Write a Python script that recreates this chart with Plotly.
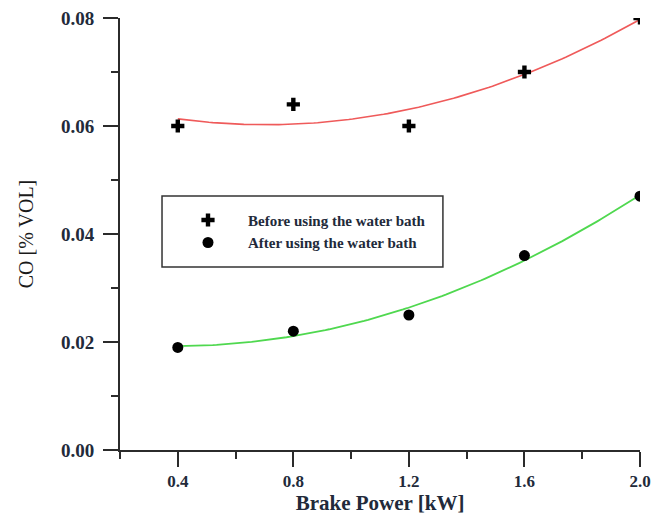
import numpy as np
import plotly.graph_objects as go

# Brake power (kW) and CO emissions (% vol)
brake_power = [0.4, 0.8, 1.2, 1.6, 2.0]
co_before = [0.060, 0.064, 0.060, 0.070, 0.080]
co_after = [0.019, 0.022, 0.025, 0.036, 0.047]

x_ticks = [0.4, 0.8, 1.2, 1.6, 2.0]
y_ticks = [0.00, 0.02, 0.04, 0.06, 0.08]

name_before = "Before using the water bath"
name_after = "After using the water bath"

SERIF = "Liberation Serif, Times New Roman, serif"
TICK_COLOR = "#222a3a"

# second-order polynomial trend lines through each series
x_fit = np.linspace(min(brake_power), max(brake_power), 120)
fit_before = np.polyval(np.polyfit(brake_power, co_before, 2), x_fit)
fit_after = np.polyval(np.polyfit(brake_power, co_after, 2), x_fit)

fig = go.Figure()
fig.add_trace(go.Scatter(x=x_fit, y=fit_before, mode="lines",
                         line=dict(color="#ef5a5a", width=1.6),
                         showlegend=False, hoverinfo="skip"))
fig.add_trace(go.Scatter(x=x_fit, y=fit_after, mode="lines",
                         line=dict(color="#4fd84f", width=1.8),
                         showlegend=False, hoverinfo="skip"))
fig.add_trace(go.Scatter(x=brake_power, y=co_before, mode="markers", name=name_before,
                         marker=dict(symbol="cross", size=11, color="black")))
fig.add_trace(go.Scatter(x=brake_power, y=co_after, mode="markers", name=name_after,
                         marker=dict(symbol="circle", size=11, color="black")))

axis_common = dict(
    showline=True, linecolor="#2b2b2b", linewidth=2,
    ticks="outside", ticklen=15, tickwidth=2, tickcolor="#2b2b2b",
    showgrid=False, zeroline=False, mirror=False, automargin=False,
)

fig.update_xaxes(
    range=[0.2, 2.0], tickvals=x_ticks, ticktext=[f"{v:.1f}" for v in x_ticks],
    minor=dict(ticklen=7, tickwidth=2, tickcolor="#2b2b2b", dtick=0.2, tick0=0.0, showgrid=False),
    tickfont=dict(family=SERIF, size=17, color=TICK_COLOR, weight="bold"),
    ticklabelstandoff=0,
    title=dict(text="Brake Power [kW]", standoff=5,
               font=dict(family=SERIF, size=21, color="#222a3a", weight="bold")),
    **axis_common,
)
fig.update_yaxes(
    range=[0.0, 0.08], tickvals=y_ticks, ticktext=[f"{v:.2f}" for v in y_ticks],
    minor=dict(ticklen=7, tickwidth=2, tickcolor="#2b2b2b", dtick=0.01, tick0=0.0, showgrid=False),
    tickfont=dict(family=SERIF, size=19, color=TICK_COLOR, weight="bold"),
    ticklabelstandoff=5,
    title=dict(text="CO [% VOL]", standoff=22,
               font=dict(family=SERIF, size=20, color="#1a1a1a")),
    **axis_common,
)

# legend frame
fig.add_shape(type="rect", xref="paper", yref="paper",
              x0=0.0808, x1=0.621, y0=0.4236, y1=0.588,
              line=dict(color="#333333", width=1.5), fillcolor="rgba(0,0,0,0)")

fig.update_layout(
    width=670, height=515,
    margin=dict(l=120, r=30, t=18, b=65),
    paper_bgcolor="white", plot_bgcolor="white",
    showlegend=True,
    legend=dict(x=0.0923, y=0.57, xanchor="left", yanchor="top",
                bgcolor="rgba(0,0,0,0)", borderwidth=0, itemwidth=70,
                font=dict(family=SERIF, size=15, color="#222a3a", weight="bold"),
                tracegroupgap=0),
)

fig.write_html("out.html")
